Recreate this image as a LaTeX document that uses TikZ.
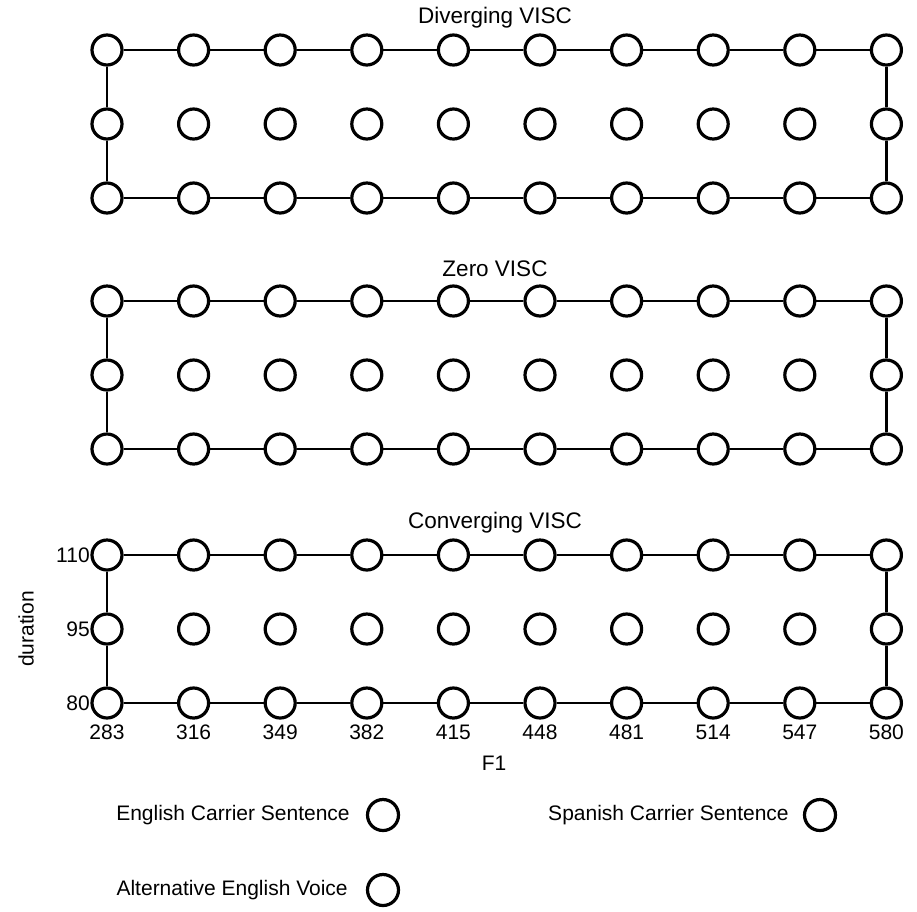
\documentclass[tikz,border=0pt]{standalone}
\usepackage{fontspec}
\setmainfont{Liberation Sans}
\usetikzlibrary{positioning}
\tikzset{
  dot/.style={circle, draw, fill=white, line width=3.2pt, minimum size=30pt, inner sep=0pt},
  rim/.style={line width=2.8pt},
  lab/.style={font=\fontsize{21}{25}\selectfont, inner sep=0pt},
  ttl/.style={lab, font=\fontsize{22.5}{27}\selectfont}
}

\begin{document}
\begin{tikzpicture}[x=1pt, y=-1pt]
  \useasboundingbox (0,0) rectangle (917,911);
  % three 10x3 grids: prefix / top row / title
  \foreach \g/\row/\t in {d/50/Diverging VISC, z/301/Zero VISC, c/555/Converging VISC} {
    \foreach \i in {1,...,10}
      \foreach \j in {1,2,3}
        \node[dot] (\g-\i-\j) at ({107+86.6*(\i-1)}, {\row+74*(\j-1)}) {};
    \node[ttl] (\g-title) at (495, \row-32) {\t};
    % frame through top row, bottom row and the two end columns
    \foreach \i [evaluate=\i as \k using int(\i+1)] in {1,...,9} {
      \draw[rim] (\g-\i-1) -- (\g-\k-1);
      \draw[rim] (\g-\i-3) -- (\g-\k-3);
    }
    \draw[rim] (\g-1-1) -- (\g-1-2);
    \draw[rim] (\g-1-2) -- (\g-1-3);
    \draw[rim] (\g-10-1) -- (\g-10-2);
    \draw[rim] (\g-10-2) -- (\g-10-3);
  }

  % axes of the lowest grid
  \foreach \j/\v in {1/110, 2/95, 3/80}
    \node[lab, left=0.5pt of c-1-\j] (ylab-\j) {\v};
  \foreach \i/\v in {1/283, 2/316, 3/349, 4/382, 5/415, 6/448, 7/481, 8/514, 9/547, 10/580}
    \node[lab, below=5pt of c-\i-3] (xlab-\i) {\v};
  \node[lab, rotate=90] (durlab) at (26, 629) {duration};
  \node[lab] (f1lab) at (494, 763) {F1};

  % legend
  \node[dot, minimum size=31pt] (engdot) at (383, 815) {};
  \node[dot, minimum size=31pt] (spadot) at (820, 815) {};
  \node[dot, minimum size=31pt] (altdot) at (383, 890) {};
  \node[lab, left=16pt of engdot] (englab) {English Carrier Sentence};
  \node[lab, left=14pt of spadot] (spalab) {Spanish Carrier Sentence};
  \node[lab, left=18pt of altdot] (altlab) {Alternative English Voice};
\end{tikzpicture}
\end{document}
